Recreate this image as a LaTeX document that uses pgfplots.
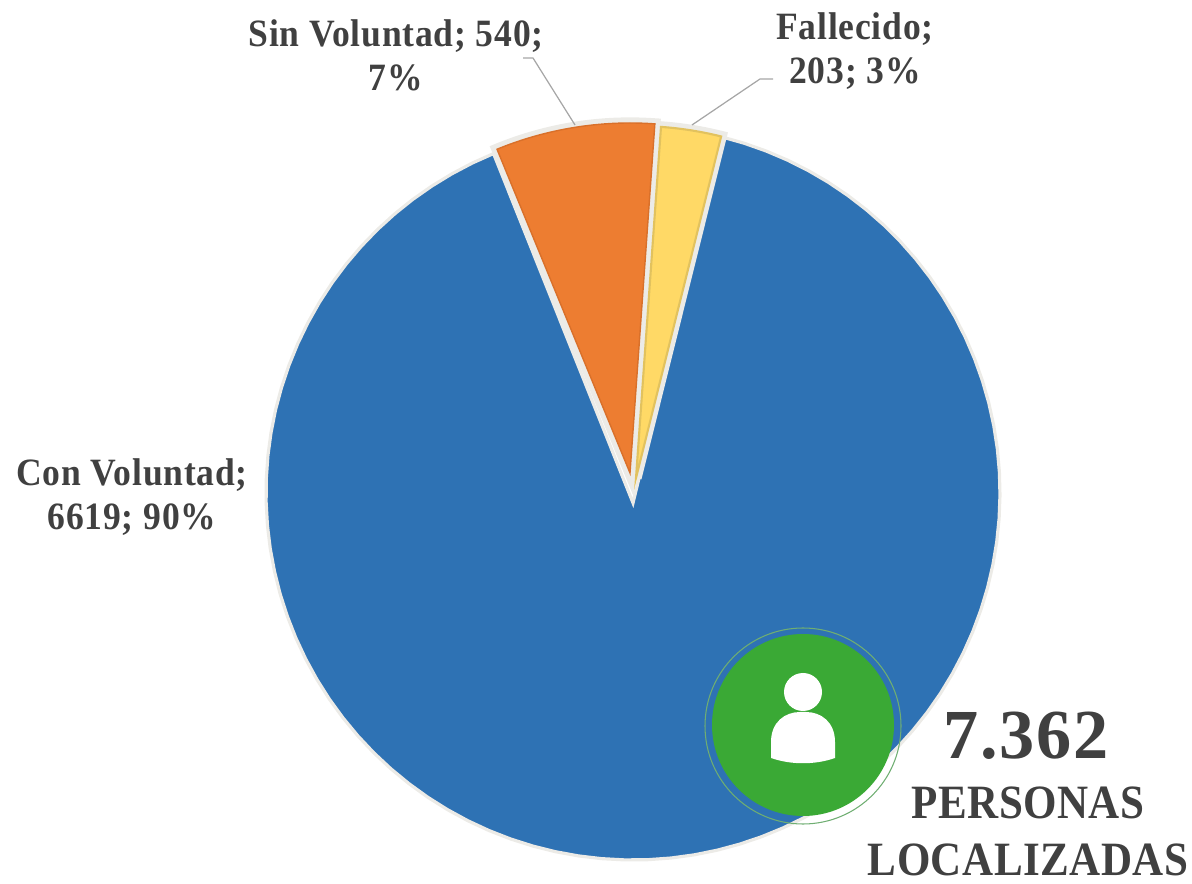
\documentclass[border=0pt]{standalone}
\usepackage{fontspec}
\setmainfont{Liberation Serif}
\newfontfamily\lblfont[FakeStretch=0.92,LetterSpace=2]{Liberation Serif}
\newfontfamily\capfont[FakeStretch=0.9,LetterSpace=1]{Liberation Serif}
\newfontfamily\numfont[LetterSpace=2.5]{Liberation Serif}
\usepackage{pgfplots}
\usepackage{pgfplotstable}
\pgfplotsset{compat=1.18}

\definecolor{piblue}{HTML}{2E72B4}
\definecolor{piorange}{HTML}{ED7D31}
\definecolor{pirimo}{HTML}{D9702A}
\definecolor{piyellow}{HTML}{FFD966}
\definecolor{pirimy}{HTML}{E2C25E}
\definecolor{pihalo}{HTML}{ECEBE7}
\definecolor{pigreen}{HTML}{3AA935}
\definecolor{piring}{HTML}{6FAE72}
\definecolor{pitext}{HTML}{404040}
\definecolor{pilead}{HTML}{A6A6A6}

\pgfplotstableread{
name value
Fallecido 203
ConVoluntad 6619
SinVoluntad 540
}\pidata

\pgfplotstablegetelem{0}{value}\of\pidata \let\vF\pgfplotsretval
\pgfplotstablegetelem{1}{value}\of\pidata \let\vC\pgfplotsretval
\pgfplotstablegetelem{2}{value}\of\pidata \let\vS\pgfplotsretval
% angles clockwise from 12 o'clock, first slice starts at 14 deg
\pgfmathsetmacro\total{\vF+\vC+\vS}
\pgfmathsetmacro\aS{14-360*(\vF/\total)}
\pgfmathsetmacro\aB{\aS-360*(\vS/\total)}
\pgfmathsetmacro\aC{\aB+360}

% #1 style, #2 from, #3 to, #4 cx, #5 cy, #6 r, #7 apex x, #8 apex y
\newcommand\slice[8]{%
  \addplot[variable=\t,domain=#2:#3,samples=90,line join=miter,miter limit=20,#1]
    ({#4+#6*sin(\t)},{#5-#6*cos(\t)}) -- (axis cs:#7,#8) -- cycle;}

\tikzset{lbl/.style={text=pitext,align=center,inner sep=0pt,
  font=\lblfont\bfseries\fontsize{11}{12.5}\selectfont}}

\begin{document}
\begin{tikzpicture}
\useasboundingbox (0,0) rectangle (11.92,8.84);
\begin{axis}[
  at={(0,0)},anchor=south west,
  scale only axis,width=11.92cm,height=8.84cm,
  xmin=0,xmax=1192,ymin=0,ymax=884,y dir=reverse,
  hide axis,clip=false,
]
% big slice with pale rim
\slice{fill=piblue,draw=pihalo,line width=0.9pt}{14}{\aC}{633}{493}{367}{633}{503}
% small slices, halo first and colour on top
\slice{fill=pihalo,draw=pihalo,line width=3.2pt,miter limit=4}{\aS}{14}{636}{478}{352}{636}{478}
\slice{fill=pihalo,draw=pihalo,line width=3.2pt}{\aB}{\aS}{630}{473}{350}{630}{473}
\slice{fill=piyellow,draw=pirimy,line width=0.6pt}{\aS}{14}{636}{478}{352}{636}{478}
\slice{fill=piorange,draw=pirimo,line width=0.4pt}{\aB}{\aS}{630}{473}{350}{630}{473}

% leader lines
\draw[pilead,line width=0.35pt] (axis cs:523,58) -- (axis cs:533,58) -- (axis cs:575,125);
\draw[pilead,line width=0.35pt] (axis cs:773,79) -- (axis cs:760,79) -- (axis cs:692,125);

% green badge with the person
\draw[piring,line width=0.3pt] (axis cs:803,726) circle[radius=0.98cm];
\fill[pigreen] (axis cs:803,725) circle[radius=0.91cm];
\fill[white] (axis cs:803,692) circle[radius=0.19cm];
\fill[white] (axis cs:771,758) -- (axis cs:771,742)
  .. controls (axis cs:771,722) and (axis cs:785,712) .. (axis cs:800,712)
  -- (axis cs:806,712)
  .. controls (axis cs:821,712) and (axis cs:835,722) .. (axis cs:835,742)
  -- (axis cs:835,758)
  .. controls (axis cs:815,765) and (axis cs:791,765) .. (axis cs:771,758) -- cycle;

% labels
\node[lbl] at (axis cs:396,55) {Sin Voluntad; 540;\\7\%};
\node[lbl] at (axis cs:855,51) {Fallecido;\\203; 3\%};
\node[lbl] at (axis cs:132,497) {Con Voluntad;\\6619; 90\%};
\node[lbl,font=\numfont\bfseries\fontsize{20}{22}\selectfont] at (axis cs:1026,736) {7.362};
\node[lbl,font=\capfont\bfseries\fontsize{13.6}{16.2}\selectfont] at (axis cs:1028,831) {PERSONAS\\LOCALIZADAS};
\end{axis}
\end{tikzpicture}
\end{document}
